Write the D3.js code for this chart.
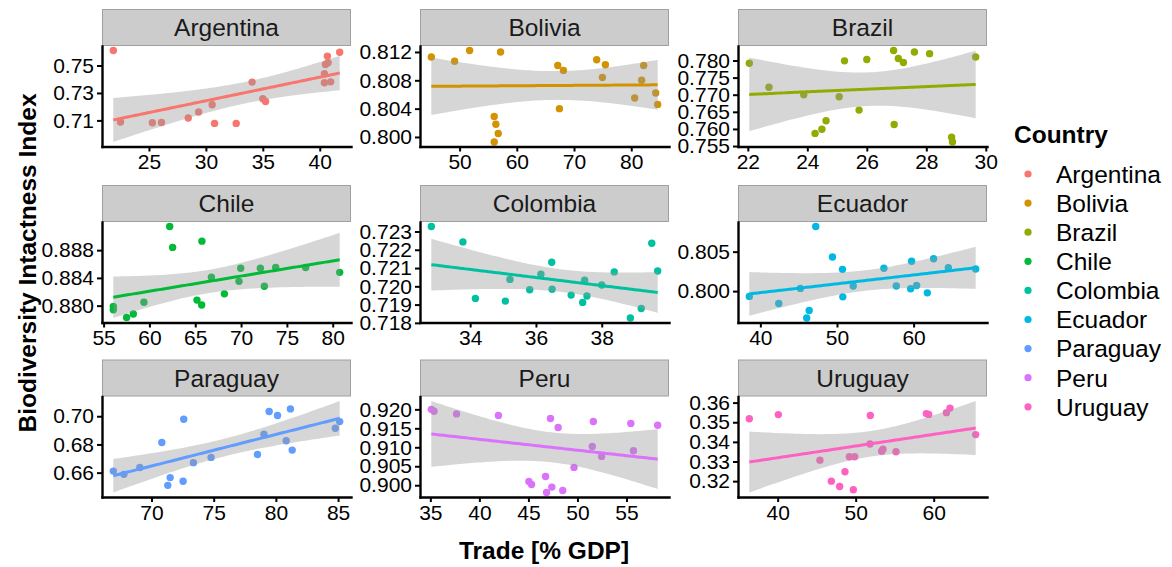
<!DOCTYPE html>
<html>
<head>
<meta charset="utf-8">
<script src="https://cdn.jsdelivr.net/npm/d3@7"></script>
<style>
  body { margin: 0; background: #fff; }
  text { font-family: "Liberation Sans", Arial, Helvetica, sans-serif; }
</style>
</head>
<body>
<svg id="chart" width="1172" height="567"></svg>
<script>
// Countries in facet order and their hue-palette colours
const countries = ["Argentina", "Bolivia", "Brazil", "Chile", "Colombia",
                   "Ecuador", "Paraguay", "Peru", "Uruguay"];
const countryColors = ["#F8766D", "#D39200", "#93AA00", "#00BA38", "#00C19F",
                       "#00B9E3", "#619CFF", "#DB72FB", "#FF61C3"];

// Trade (% of GDP) and Biodiversity Intactness Index, one pair per country
const tradeArgentina = [21.87, 22.5, 25.3, 26.1, 28.45, 29.36, 30.55, 30.76, 32.66, 34.06, 35.0, 35.24, 40.41, 40.41, 40.5, 40.67, 40.73, 40.96, 41.75];
const biiArgentina   = [0.7609, 0.7088, 0.7083, 0.7085, 0.7117, 0.7161, 0.7214, 0.7078, 0.7078, 0.7379, 0.7258, 0.7238, 0.7440, 0.7374, 0.7507, 0.7568, 0.7520, 0.7381, 0.7597];

const tradeBolivia = [45.06, 49.13, 51.75, 57.16, 56.05, 56.34, 56.75, 56.05, 67.16, 68.15, 67.45, 73.96, 75.48, 74.96, 80.6, 81.82, 82.17, 84.27, 84.62];
const biiBolivia   = [0.8113, 0.8107, 0.8122, 0.8120, 0.8029, 0.8018, 0.8005, 0.7993, 0.8101, 0.8094, 0.8040, 0.8109, 0.8102, 0.8084, 0.8055, 0.8080, 0.8101, 0.8062, 0.8046];

const tradeBrazil = [22.05, 22.71, 23.88, 24.26, 24.49, 24.63, 25.07, 25.25, 25.74, 26.0, 26.9, 27.06, 27.23, 26.92, 27.6, 28.11, 28.85, 28.88, 29.66];
const biiBrazil   = [0.7792, 0.7722, 0.7700, 0.7587, 0.7599, 0.7624, 0.7694, 0.7799, 0.7655, 0.7803, 0.7829, 0.7806, 0.7794, 0.7613, 0.7825, 0.7820, 0.7576, 0.7562, 0.7810];

const tradeChile = [56.06, 56.06, 57.51, 58.24, 59.4, 62.21, 62.53, 65.73, 65.19, 65.7, 66.76, 68.18, 69.77, 69.96, 72.1, 72.54, 73.78, 77.05, 80.76];
const biiChile   = [0.8799, 0.8794, 0.8783, 0.8788, 0.8805, 0.8914, 0.8884, 0.8893, 0.8808, 0.8801, 0.8841, 0.8817, 0.8835, 0.8854, 0.8854, 0.8828, 0.8855, 0.8855, 0.8848];

const tradeColombia = [32.82, 33.78, 34.16, 35.07, 35.21, 35.81, 36.15, 36.48, 36.49, 37.07, 37.42, 37.48, 37.55, 38.0, 38.38, 38.87, 39.2, 39.52, 39.7];
const biiColombia   = [0.72327, 0.72243, 0.71934, 0.71919, 0.72038, 0.71981, 0.72066, 0.72132, 0.71984, 0.71952, 0.71912, 0.72033, 0.71947, 0.72007, 0.72079, 0.71827, 0.71879, 0.72236, 0.72084];

const tradeEcuador = [38.56, 42.4, 45.23, 46.05, 46.37, 47.23, 49.41, 50.72, 50.76, 52.12, 56.12, 57.74, 59.61, 59.74, 60.39, 61.79, 62.61, 64.53, 68.1];
const biiEcuador   = [0.79933, 0.79843, 0.80034, 0.79660, 0.79754, 0.80818, 0.80433, 0.80276, 0.79927, 0.80064, 0.80289, 0.80064, 0.80029, 0.80378, 0.80072, 0.79978, 0.80411, 0.80297, 0.80280];

const tradeParaguay = [66.93, 67.78, 69.06, 70.83, 71.31, 71.5, 72.59, 72.54, 73.37, 74.79, 78.52, 79.04, 79.46, 80.13, 80.83, 81.17, 81.31, 84.78, 85.13];
const biiParaguay   = [0.6611, 0.6588, 0.6637, 0.6814, 0.6510, 0.6565, 0.6979, 0.6539, 0.6671, 0.6708, 0.6729, 0.6873, 0.7033, 0.7005, 0.6826, 0.7052, 0.6760, 0.6915, 0.6962];

const tradePeru = [35.1, 35.38, 37.67, 41.94, 45.05, 45.32, 46.75, 46.85, 47.25, 47.39, 48.03, 48.5, 49.65, 51.62, 51.51, 52.46, 55.44, 55.71, 58.18];
const biiPeru   = [0.9200, 0.9195, 0.9188, 0.9184, 0.9010, 0.9002, 0.9023, 0.8981, 0.9176, 0.8995, 0.9152, 0.8986, 0.9047, 0.9168, 0.9102, 0.9076, 0.9163, 0.9091, 0.9158];

const tradeUruguay = [36.37, 40.09, 45.42, 46.88, 47.95, 48.63, 49.19, 49.7, 49.87, 51.83, 51.88, 53.33, 53.5, 55.17, 59.06, 59.36, 61.63, 62.09, 65.38];
const biiUruguay   = [0.3518, 0.3539, 0.3307, 0.3200, 0.3173, 0.3248, 0.3324, 0.3156, 0.3324, 0.3389, 0.3534, 0.3352, 0.3363, 0.3350, 0.3544, 0.3540, 0.3549, 0.3572, 0.3437];

const tradeValues = [tradeArgentina, tradeBolivia, tradeBrazil, tradeChile, tradeColombia,
                     tradeEcuador, tradeParaguay, tradePeru, tradeUruguay];
const biiValues = [biiArgentina, biiBolivia, biiBrazil, biiChile, biiColombia,
                   biiEcuador, biiParaguay, biiPeru, biiUruguay];

// Axis break labels for each facet (free scales)
const xTickLabels = [
  ["25", "30", "35", "40"],
  ["50", "60", "70", "80"],
  ["22", "24", "26", "28", "30"],
  ["55", "60", "65", "70", "75", "80"],
  ["34", "36", "38"],
  ["40", "50", "60"],
  ["70", "75", "80", "85"],
  ["35", "40", "45", "50", "55"],
  ["40", "50", "60"]
];
const yTickLabels = [
  ["0.71", "0.73", "0.75"],
  ["0.800", "0.804", "0.808", "0.812"],
  ["0.755", "0.760", "0.765", "0.770", "0.775", "0.780"],
  ["0.880", "0.884", "0.888"],
  ["0.718", "0.719", "0.720", "0.721", "0.722", "0.723"],
  ["0.800", "0.805"],
  ["0.66", "0.68", "0.70"],
  ["0.900", "0.905", "0.910", "0.915", "0.920"],
  ["0.32", "0.33", "0.34", "0.35", "0.36"]
];

// ---- layout ----
const svg = d3.select("#chart");
const panelW = 249, panelH = 100.5, stripH = 37;
const colX = [102, 420, 738];
const rowY = [46, 222, 396.5];
const tickFont = 21, stripFont = 24.5;

// Student t quantile (Cornish-Fisher expansion around the normal quantile)
function tQuantile975(df) {
  const z = 1.959964;
  const z3 = z ** 3, z5 = z ** 5, z7 = z ** 7, z9 = z ** 9;
  const g1 = (z3 + z) / 4;
  const g2 = (5 * z5 + 16 * z3 + 3 * z) / 96;
  const g3 = (3 * z7 + 19 * z5 + 17 * z3 - 15 * z) / 384;
  const g4 = (79 * z9 + 776 * z7 + 1482 * z5 - 1920 * z3 - 945 * z) / 92160;
  return z + g1 / df + g2 / df ** 2 + g3 / df ** 3 + g4 / df ** 4;
}

// Ordinary least squares fit with a 95% confidence band for the mean
function linearSmooth(xs, ys, nOut) {
  const n = xs.length;
  const mx = d3.mean(xs), my = d3.mean(ys);
  let sxx = 0, sxy = 0;
  for (let i = 0; i < n; i++) {
    sxx += (xs[i] - mx) ** 2;
    sxy += (xs[i] - mx) * (ys[i] - my);
  }
  const b = sxy / sxx, a = my - b * mx;
  let rss = 0;
  for (let i = 0; i < n; i++) rss += (ys[i] - a - b * xs[i]) ** 2;
  const s = Math.sqrt(rss / (n - 2));
  const t = tQuantile975(n - 2);
  const [x0, x1] = d3.extent(xs);
  return d3.range(nOut).map(k => {
    const x = x0 + (x1 - x0) * k / (nOut - 1);
    const fit = a + b * x;
    const se = s * Math.sqrt(1 / n + (x - mx) ** 2 / sxx);
    return { x, fit, lo: fit - t * se, hi: fit + t * se };
  });
}

function expand(ext) {
  const pad = (ext[1] - ext[0]) * 0.05;
  return [ext[0] - pad, ext[1] + pad];
}

countries.forEach((name, idx) => {
  const col = idx % 3, row = Math.floor(idx / 3);
  const left = colX[col], top = rowY[row];
  const xs = tradeValues[idx], ys = biiValues[idx];
  const points = xs.map((x, i) => ({ x, y: ys[i] }));
  const band = linearSmooth(xs, ys, 80);

  const x = d3.scaleLinear()
    .domain(expand(d3.extent(xs)))
    .range([0, panelW]);
  const yExt = d3.extent([...ys, ...band.map(d => d.lo), ...band.map(d => d.hi)]);
  const y = d3.scaleLinear()
    .domain(expand(yExt))
    .range([panelH, 0]);

  const g = svg.append("g").attr("transform", `translate(${left},${top})`);

  // facet strip
  g.append("rect")
    .attr("x", 0.5).attr("y", -stripH + 0.5)
    .attr("width", panelW - 1).attr("height", stripH - 1)
    .attr("fill", "#cccccc").attr("stroke", "#a0a0a0").attr("stroke-width", 1);
  g.append("text")
    .attr("x", panelW / 2).attr("y", -stripH / 2)
    .attr("dy", "0.36em")
    .attr("text-anchor", "middle")
    .attr("font-size", stripFont)
    .attr("fill", "#1a1a1a")
    .text(name);

  // observations
  g.append("g").selectAll("circle")
    .data(points).join("circle")
    .attr("cx", d => x(d.x)).attr("cy", d => y(d.y))
    .attr("r", 3.7)
    .attr("fill", countryColors[idx]);

  // confidence band and fitted line
  g.append("path")
    .datum(band)
    .attr("d", d3.area().x(d => x(d.x)).y0(d => y(d.lo)).y1(d => y(d.hi)))
    .attr("fill", "#999999").attr("fill-opacity", 0.4);
  g.append("path")
    .datum(band)
    .attr("d", d3.line().x(d => x(d.x)).y(d => y(d.fit)))
    .attr("fill", "none")
    .attr("stroke", countryColors[idx])
    .attr("stroke-width", 3);

  // axes
  const xTicks = xTickLabels[idx].map(Number);
  const yTicks = yTickLabels[idx].map(Number);
  const xAxis = g.append("g")
    .attr("transform", `translate(0,${panelH})`)
    .call(d3.axisBottom(x).tickValues(xTicks)
      .tickFormat((d, i) => xTickLabels[idx][i])
      .tickSize(5).tickSizeOuter(0).tickPadding(3));
  const yAxis = g.append("g")
    .call(d3.axisLeft(y).tickValues(yTicks)
      .tickFormat((d, i) => yTickLabels[idx][i])
      .tickSize(5).tickSizeOuter(0).tickPadding(3));
  [xAxis, yAxis].forEach(ax => {
    ax.select(".domain").attr("stroke", "#000").attr("stroke-width", 2.4)
      .attr("stroke-linecap", "square");
    ax.selectAll(".tick line").attr("stroke", "#000").attr("stroke-width", 2);
    ax.selectAll(".tick text")
      .attr("font-size", tickFont)
      .attr("font-family", "Liberation Sans, Arial, sans-serif")
      .attr("fill", "#000");
  });
});

// axis titles
svg.append("text")
  .attr("x", 544).attr("y", 559)
  .attr("text-anchor", "middle")
  .attr("font-size", 24.5).attr("font-weight", "bold")
  .text("Trade [% GDP]");
svg.append("text")
  .attr("transform", "translate(36,263) rotate(-90)")
  .attr("text-anchor", "middle")
  .attr("font-size", 24.5).attr("font-weight", "bold")
  .text("Biodiversity Intactness Index");

// legend
const legend = svg.append("g");
legend.append("text")
  .attr("x", 1014).attr("y", 143)
  .attr("font-size", 24.5).attr("font-weight", "bold")
  .text("Country");
const items = legend.selectAll("g.item")
  .data(countries).join("g")
  .attr("class", "item")
  .attr("transform", (d, i) => `translate(1028,${174 + i * 29.1})`);
items.append("circle").attr("r", 3.6).attr("fill", (d, i) => countryColors[i]);
items.append("text")
  .attr("x", 28).attr("dy", "0.36em")
  .attr("font-size", stripFont)
  .text(d => d);
</script>
</body>
</html>
